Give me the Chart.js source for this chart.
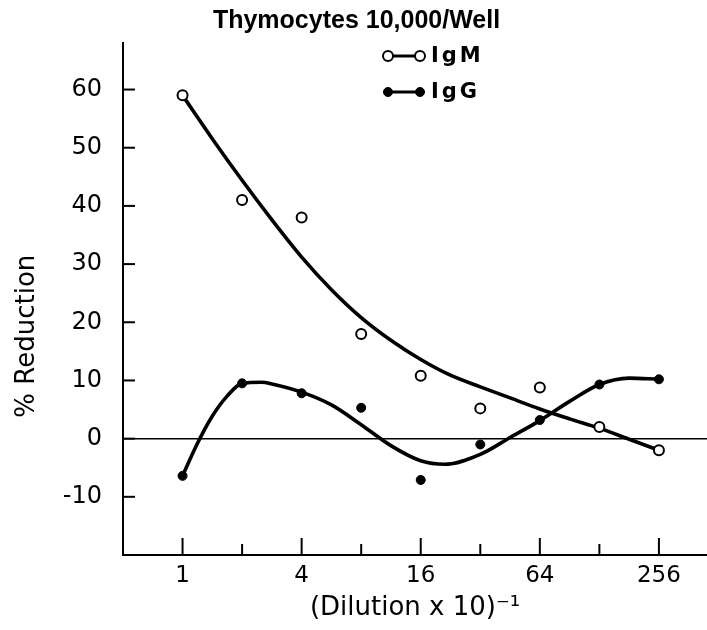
<!DOCTYPE html>
<html>
<head>
<meta charset="utf-8">
<script src="https://cdn.jsdelivr.net/npm/chart.js@4"></script>
<style>
  html, body { margin: 0; padding: 0; background: #fff; }
</style>
</head>
<body>
<canvas id="myChart" width="707" height="630"></canvas>
<script>
// measured points (dilution x 10)^-1 vs % reduction
const dilutions = [1, 2, 4, 8, 16, 32, 64, 128, 256];
const igmValues = [59, 41, 38, 18, 10.8, 5.2, 8.8, 2, -2];
const iggValues = [-6.4, 9.5, 7.8, 5.3, -7.1, -1, 3.2, 9.3, 10.2];

// the hand-drawn fitted curves
const igmCurveX = [1, 1.41, 2, 2.83, 4, 5.66, 8, 11.3, 16, 22.6, 32, 45.3, 64, 90.5, 128, 181, 256];
const igmCurveY = [59, 51.6, 44.4, 37.6, 31.2, 25.6, 20.8, 16.9, 13.6, 10.9, 8.9, 7.0, 5.1, 3.4, 1.8, -0.1, -2];
const iggCurveX = [1, 1.19, 1.41, 1.68, 2, 2.52, 2.83, 4, 5.66, 8, 11.3, 16, 21.1, 32, 45.3, 64, 90.5, 128, 181, 256];
const iggCurveY = [-6.4, -0.8, 3.8, 7.3, 9.5, 9.7, 9.4, 8.0, 5.8, 2.4, -1.2, -3.8, -4.4, -2.7, 0.2, 3.1, 6.4, 9.3, 10.4, 10.2];

// axis ticks
const xTickValues = [1, 2, 4, 8, 16, 32, 64, 128, 256];
const xTickLabels = ['1', '', '4', '', '16', '', '64', '', '256'];
const yTickValues = [-10, 0, 10, 20, 30, 40, 50, 60];

const toPoints = (xs, ys) => xs.map((x, i) => ({ x: x, y: ys[i] }));

// tick marks point inward, major ones longer on the x axis
const inwardTicks = {
    id: 'inwardTicks',
    afterDraw(chart) {
        const { ctx, chartArea, scales } = chart;
        ctx.save();
        ctx.strokeStyle = '#000';
        ctx.lineWidth = 2;
        xTickValues.forEach((v, i) => {
            const x = scales.x.getPixelForValue(v);
            const len = xTickLabels[i] ? 17 : 11;
            ctx.beginPath();
            ctx.moveTo(x, chartArea.bottom);
            ctx.lineTo(x, chartArea.bottom - len);
            ctx.stroke();
        });
        yTickValues.forEach(v => {
            const y = scales.y.getPixelForValue(v);
            ctx.beginPath();
            ctx.moveTo(chartArea.left, y);
            ctx.lineTo(chartArea.left + 12, y);
            ctx.stroke();
        });
        ctx.restore();
    }
};

// legend drawn as  o—o IgM  /  •—• IgG
const markerLegend = {
    id: 'markerLegend',
    afterDraw(chart) {
        const ctx = chart.ctx;
        const items = chart.data.datasets.filter(d => d.inLegend);
        ctx.save();
        items.forEach((ds, i) => {
            const y = 56 + i * 36;
            const x0 = 388, x1 = 420;
            ctx.strokeStyle = '#000';
            ctx.lineWidth = 3;
            ctx.beginPath();
            ctx.moveTo(x0, y);
            ctx.lineTo(x1, y);
            ctx.stroke();
            [x0, x1].forEach(x => {
                ctx.beginPath();
                ctx.arc(x, y, ds.pointRadius, 0, Math.PI * 2);
                ctx.fillStyle = ds.pointBackgroundColor;
                ctx.fill();
                ctx.lineWidth = ds.pointBorderWidth;
                ctx.stroke();
            });
            ctx.fillStyle = '#000';
            ctx.font = 'bold 21px "DejaVu Sans"';
            ctx.textBaseline = 'middle';
            if ('letterSpacing' in ctx) ctx.letterSpacing = '3px';
            ctx.fillText(ds.label, 431, y + 1);
        });
        ctx.restore();
    }
};

const ctx = document.getElementById('myChart').getContext('2d');

new Chart(ctx, {
    type: 'line',
    data: {
        datasets: [
            {
                label: 'IgM',
                inLegend: true,
                data: toPoints(dilutions, igmValues),
                showLine: false,
                pointRadius: 5,
                pointBorderWidth: 2,
                pointBackgroundColor: '#fff',
                pointBorderColor: '#000'
            },
            {
                label: 'IgG',
                inLegend: true,
                data: toPoints(dilutions, iggValues),
                showLine: false,
                pointRadius: 4.5,
                pointBorderWidth: 1,
                pointBackgroundColor: '#000',
                pointBorderColor: '#000'
            },
            {
                label: 'IgM fit',
                data: toPoints(igmCurveX, igmCurveY),
                borderColor: '#000',
                borderWidth: 3.6,
                pointRadius: 0,
                cubicInterpolationMode: 'monotone',
                fill: false
            },
            {
                label: 'IgG fit',
                data: toPoints(iggCurveX, iggCurveY),
                borderColor: '#000',
                borderWidth: 3.6,
                pointRadius: 0,
                cubicInterpolationMode: 'monotone',
                fill: false
            }
        ]
    },
    options: {
        responsive: false,
        devicePixelRatio: 1,
        animation: false,
        layout: { autoPadding: false, padding: { left: 6, right: 0, top: 0, bottom: 0 } },
        plugins: {
            legend: { display: false },
            tooltip: { enabled: false },
            title: {
                display: true,
                text: 'Thymocytes 10,000/Well',
                color: '#000',
                font: { family: 'Liberation Sans', size: 25, weight: 'bold' },
                padding: { top: 6, bottom: 7 }
            }
        },
        scales: {
            x: {
                type: 'logarithmic',
                min: 0.5,
                max: 448,
                afterBuildTicks: s => { s.ticks = xTickValues.map(v => ({ value: v })); },
                afterFit: s => { s.height = 75; },
                grid: { display: false, drawTicks: false },
                border: { display: true, color: '#000', width: 2 },
                ticks: {
                    callback: (v, i) => xTickLabels[i],
                    color: '#000',
                    font: { family: 'DejaVu Sans', size: 23 },
                    padding: 7,
                    maxRotation: 0,
                    autoSkip: false
                },
                title: {
                    display: true,
                    text: '(Dilution x 10)⁻¹',
                    color: '#000',
                    font: { family: 'DejaVu Sans', size: 26 },
                    padding: { top: 0, bottom: 6 }
                }
            },
            y: {
                min: -20,
                max: 68,
                afterBuildTicks: s => { s.ticks = yTickValues.map(v => ({ value: v })); },
                afterFit: s => { s.width = 117; },
                grid: {
                    drawTicks: false,
                    color: c => (c.tick && c.tick.value === 0 ? '#000' : 'rgba(0,0,0,0)'),
                    lineWidth: 1.5
                },
                border: { display: true, color: '#000', width: 2 },
                ticks: {
                    color: '#000',
                    font: { family: 'DejaVu Sans', size: 24 },
                    padding: 21
                },
                title: {
                    display: true,
                    // trailing spaces push the label down the axis as in the original
                    text: '% Reduction         ',
                    color: '#000',
                    font: { family: 'DejaVu Sans', size: 26 },
                    padding: { top: 6, bottom: 0 }
                }
            }
        }
    },
    plugins: [inwardTicks, markerLegend]
});
</script>
</body>
</html>
